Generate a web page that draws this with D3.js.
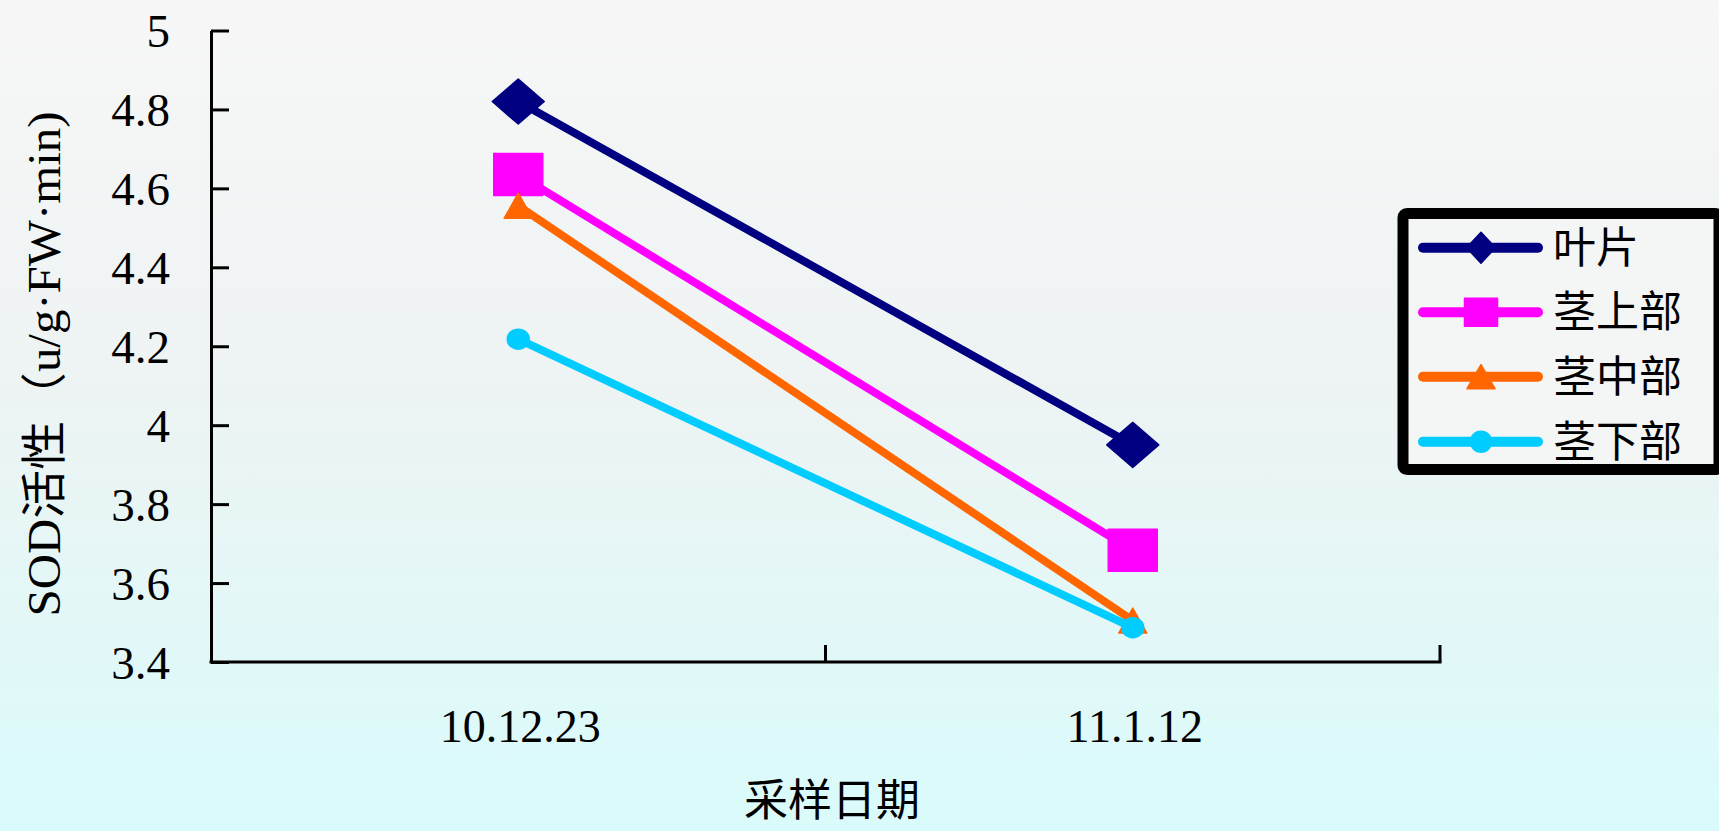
<!DOCTYPE html>
<html>
<head>
<meta charset="utf-8">
<script src="https://cdn.jsdelivr.net/npm/d3@7"></script>
<style>
  html, body { margin: 0; padding: 0; overflow: hidden; }
  svg { display: block; }
</style>
</head>
<body>
<svg id="chart" width="1719" height="831"></svg>
<script>
// ---- data ----
const categories = ["10.12.23", "11.1.12"];
const seriesNames = ["叶片", "茎上部", "茎中部", "茎下部"];
const yeyian = [4.82, 3.95];       // 叶片
const jingShang = [4.635, 3.683];  // 茎上部
const jingZhong = [4.556, 3.505];  // 茎中部
const jingXia = [4.218, 3.487];    // 茎下部
const yTickValues = [3.4, 3.6, 3.8, 4.0, 4.2, 4.4, 4.6, 4.8, 5.0];
const yTickLabels = ["3.4", "3.6", "3.8", "4", "4.2", "4.4", "4.6", "4.8", "5"];
const yTitle = "SOD活性（u/g·FW·min)";
const xTitle = "采样日期";

const seriesValues = [yeyian, jingShang, jingZhong, jingXia];
const colors = ["#000080", "#ff00ff", "#ff6600", "#00ccff"];
const markers = ["diamond", "square", "triangle", "circle"];

const svg = d3.select("#chart");
const W = 1719, H = 831;
const serif = "'Liberation Serif', 'Times New Roman', 'Noto Sans CJK SC', serif";
const cjk = "'Noto Sans CJK SC', 'Liberation Serif', sans-serif";

// background gradient
const defs = svg.append("defs");
const grad = defs.append("linearGradient").attr("id", "bg").attr("x1", 0).attr("y1", 0).attr("x2", 0).attr("y2", 1);
grad.append("stop").attr("offset", "0%").attr("stop-color", "#f7f7f7");
grad.append("stop").attr("offset", "45%").attr("stop-color", "#eef3f3");
grad.append("stop").attr("offset", "100%").attr("stop-color", "#dafbfb");
svg.append("rect").attr("width", W).attr("height", H).attr("fill", "url(#bg)");

// scales
const plotLeft = 211, plotRight = 1440, plotTop = 30.5, plotBottom = 662;
const x = d3.scaleBand().domain(categories).range([plotLeft, plotRight]).paddingInner(0).paddingOuter(0);
const xc = c => x(c) + x.bandwidth() / 2;
const y = d3.scaleLinear().domain([3.4, 5.0]).range([plotBottom, plotTop]);

// y axis
const yAxis = d3.axisLeft(y)
  .tickValues(yTickValues)
  .tickFormat((d, i) => yTickLabels[i])
  .tickSize(-18)
  .tickSizeOuter(0)
  .tickPadding(41);
const gy = svg.append("g").attr("transform", `translate(${plotLeft},0)`).call(yAxis);
gy.select(".domain").attr("stroke", "#000").attr("stroke-width", 3);
gy.selectAll(".tick line").attr("stroke", "#000").attr("stroke-width", 3);
gy.selectAll(".tick text")
  .attr("fill", "#000")
  .attr("font-family", serif)
  .attr("font-size", 47)
  .attr("dy", null)
  .attr("dominant-baseline", "central");

// x axis line + boundary ticks (inside)
const boundaries = [plotLeft].concat(categories.map(c => x(c) + x.bandwidth()));
svg.append("line")
  .attr("x1", plotLeft - 1.5).attr("x2", plotRight + 1.5)
  .attr("y1", plotBottom).attr("y2", plotBottom)
  .attr("stroke", "#000").attr("stroke-width", 3.2);
svg.selectAll(".xtick").data(boundaries.slice(1)).enter().append("line")
  .attr("x1", d => d).attr("x2", d => d)
  .attr("y1", plotBottom).attr("y2", plotBottom - 17)
  .attr("stroke", "#000").attr("stroke-width", 3);

// x labels
svg.selectAll(".xlab").data(categories).enter().append("text")
  .attr("x", d => xc(d) + 2)
  .attr("y", 742)
  .attr("text-anchor", "middle")
  .attr("font-family", serif)
  .attr("font-size", 46)
  .attr("fill", "#000")
  .text(d => d);

// axis titles
svg.append("text")
  .attr("x", 832).attr("y", 797)
  .attr("text-anchor", "middle")
  .attr("dominant-baseline", "central")
  .attr("font-family", cjk)
  .attr("font-size", 44)
  .attr("fill", "#000")
  .text(xTitle);

svg.append("text")
  .attr("transform", "translate(44,364) rotate(-90)")
  .attr("text-anchor", "middle")
  .attr("dominant-baseline", "central")
  .attr("font-family", serif)
  .attr("font-size", 46)
  .attr("textLength", 505)
  .attr("lengthAdjust", "spacingAndGlyphs")
  .attr("fill", "#000")
  .text(yTitle);

// marker path generator
function markerPath(type, w, h) {
  const a = w / 2, b = h / 2;
  if (type === "diamond") return `M0,${-b}L${a},0L0,${b}L${-a},0Z`;
  if (type === "square") return `M${-a},${-b}H${a}V${b}H${-a}Z`;
  if (type === "triangle") return `M0,${-b}L${a},${b}L${-a},${b}Z`;
  return `M${-a},0A${a},${b} 0 1,0 ${a},0A${a},${b} 0 1,0 ${-a},0Z`;
}
const chartMarkerSize = { diamond: [52, 45], square: [49, 42], triangle: [28, 25], circle: [22, 20] };
const legendMarkerSize = { diamond: [29, 31], square: [33, 28], triangle: [28, 24], circle: [21, 21] };

const line = d3.line().x((d, i) => xc(categories[i])).y(d => y(d));

seriesValues.forEach((vals, si) => {
  const g = svg.append("g");
  g.append("path")
    .attr("d", line(vals))
    .attr("fill", "none")
    .attr("stroke", colors[si])
    .attr("stroke-width", 8)
    .attr("stroke-linejoin", "round");
  const [mw, mh] = chartMarkerSize[markers[si]];
  g.selectAll(".m").data(vals).enter().append("path")
    .attr("d", markerPath(markers[si], mw, mh))
    .attr("transform", (d, i) => `translate(${xc(categories[i])},${y(d)})`)
    .attr("fill", colors[si])
    .attr("stroke", colors[si])
    .attr("stroke-width", 1.5)
    .attr("stroke-linejoin", "round");
});

// legend
const legX = 1403, legY = 213.5, legW = 316, legH = 256;
svg.append("rect")
  .attr("x", legX).attr("y", legY).attr("width", legW).attr("height", legH)
  .attr("rx", 4)
  .attr("fill", "#f4f5f5")
  .attr("stroke", "#000").attr("stroke-width", 11);

const legRows = [247.7, 312.3, 376.7, 441.7];
seriesNames.forEach((name, si) => {
  const ly = legRows[si];
  const g = svg.append("g");
  g.append("line")
    .attr("x1", 1418 + 5).attr("x2", 1543 - 5)
    .attr("y1", ly).attr("y2", ly)
    .attr("stroke", colors[si]).attr("stroke-width", 10)
    .attr("stroke-linecap", "round");
  const [mw, mh] = legendMarkerSize[markers[si]];
  g.append("path")
    .attr("d", markerPath(markers[si], mw, mh))
    .attr("transform", `translate(1481,${ly})`)
    .attr("fill", colors[si]).attr("stroke", colors[si]).attr("stroke-width", 1.5)
    .attr("stroke-linejoin", "round");
  g.append("text")
    .attr("x", 1553).attr("y", ly - 4)
    .attr("dominant-baseline", "central")
    .attr("font-family", cjk)
    .attr("font-size", 43)
    .attr("fill", "#000")
    .text(name);
});
</script>
</body>
</html>
